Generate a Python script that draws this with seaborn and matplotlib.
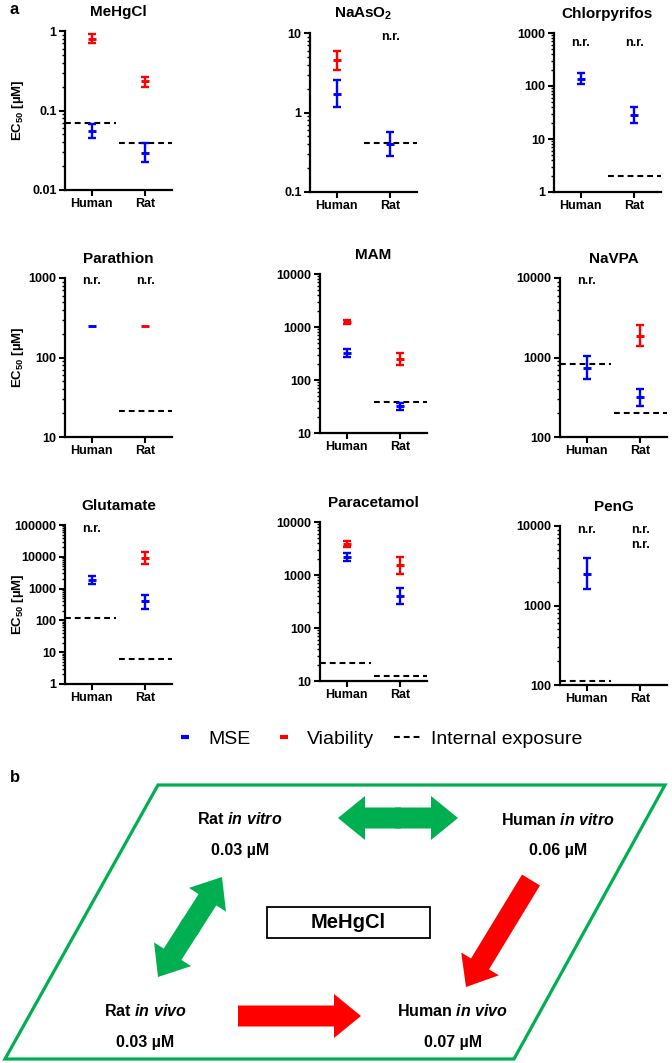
import numpy as np
import pandas as pd
import matplotlib
matplotlib.use("Agg")
import matplotlib.pyplot as plt
import matplotlib.patches as mpatches
import matplotlib.transforms as mtransforms
from matplotlib.lines import Line2D
from matplotlib.ticker import LogLocator, FuncFormatter, NullFormatter
import seaborn as sns

# ---------------- data ----------------
compounds = ["MeHgCl", "NaAsO$_2$", "Chlorpyrifos", "Parathion", "MAM",
             "NaVPA", "Glutamate", "Paracetamol", "PenG"]
species = ["Human", "Rat"]
nan = np.nan

# MSE EC50 [uM] (Human, Rat)
mse_mean = [[0.055, 0.0295], [1.71, 0.405], [137, 28.4], [250, nan], [328, 31.8],
            [740, 316], [1910, 402], [2190, 407], [2490, nan]]
mse_low = [[0.0455, 0.0223], [1.16, 0.286], [109, 20.0], [nan, nan], [275, 27.2],
           [532, 248], [1430, 232], [1840, 288], [1595, nan]]
mse_high = [[0.068, 0.0386], [2.56, 0.574], [176, 39.5], [nan, nan], [390, 36.8],
            [1030, 398], [2490, 650], [2600, 577], [3955, nan]]

# Viability EC50 [uM] (Human, Rat)
via_mean = [[0.80, 0.235], [4.53, nan], [nan, nan], [nan, 250], [1250, 253],
            [nan, 1890], [nan, 9300], [3850, 1520], [nan, nan]]
via_low = [[0.70, 0.20], [3.43, nan], [nan, nan], [nan, nan], [1140, 192],
           [nan, 1384], [nan, 5750], [3325, 1045], [nan, nan]]
via_high = [[0.91, 0.264], [6.0, nan], [nan, nan], [nan, nan], [1374, 318],
            [nan, 2600], [nan, 14300], [4447, 2188], [nan, nan]]

# Internal exposure [uM] (Human, Rat)
exposure = [[0.070, 0.039], [nan, 0.41], [nan, 2.0], [nan, 21.3], [nan, 39],
            [824, 200], [121, 6.3], [21.9, 12.6], [111, nan]]

# number of "n.r." labels above (Human, Rat)
nr_count = [[0, 0], [0, 1], [1, 1], [1, 1], [0, 0], [1, 0], [1, 0], [0, 0], [1, 2]]

# y-axis ranges
y_lo = [0.01, 0.1, 1, 10, 10, 100, 1, 10, 100]
y_hi = [1, 10, 1000, 1000, 10000, 10000, 100000, 10000, 10000]

# panel b
b_species = ["Rat", "Human", "Rat", "Human"]
b_condition = ["in vitro", "in vitro", "in vivo", "in vivo"]
b_conc = [0.03, 0.06, 0.03, 0.07]
b_compound = "MeHgCl"

# ---------------- style ----------------
sns.set_theme(style="ticks")
plt.rcParams["font.family"] = ["Liberation Sans", "DejaVu Sans"]
plt.rcParams["font.weight"] = "bold"
plt.rcParams["text.color"] = "black"
plt.rcParams["axes.labelcolor"] = "black"
plt.rcParams["xtick.color"] = "black"
plt.rcParams["ytick.color"] = "black"
plt.rcParams["axes.edgecolor"] = "black"
plt.rcParams["mathtext.fontset"] = "custom"
plt.rcParams["mathtext.rm"] = "Liberation Sans:bold"
plt.rcParams["mathtext.bf"] = "Liberation Sans:bold"
plt.rcParams["mathtext.it"] = "Liberation Sans:italic:bold"
plt.rcParams["mathtext.default"] = "bf"

BLUE = "#0000FF"
RED = "#FF0000"
GREEN = "#00B050"
palette = {"MSE": BLUE, "Viability": RED}

W, H = 672, 1063
fig = plt.figure(figsize=(W / 100, H / 100), dpi=100)

# long table
records = []
for ci, c in enumerate(compounds):
    for si, s in enumerate(species):
        for assay, m, lo, hi in [("MSE", mse_mean, mse_low, mse_high),
                                 ("Viability", via_mean, via_low, via_high)]:
            if not np.isnan(m[ci][si]):
                records.append(dict(compound=c, x=si, species=s, assay=assay,
                                    mean=m[ci][si], low=lo[ci][si], high=hi[ci][si]))
df = pd.DataFrame(records)

px_left = [65, 310, 554, 65, 320, 560, 65, 320, 560]
px_top = [31, 33, 33, 278, 274, 278, 525, 522, 526]
nr_off = [4, 4, 10, 3, 4, 3, 4, 4, 4]   # px below axes top
ax_w, ax_h = 107, 159
exp_span = [(-0.5, 0.45), (0.5, 1.5)]
fmt = FuncFormatter(lambda v, p: f"{v:.10g}")

for i, name in enumerate(compounds):
    ax = fig.add_axes([px_left[i] / W, 1 - (px_top[i] + ax_h) / H, ax_w / W, ax_h / H])
    sub = df[df.compound == name]
    ax.set_yscale("log")
    # error bars
    for assay, g in sub.groupby("assay"):
        g = g.dropna(subset=["low", "high"])
        if len(g):
            ax.errorbar(g["x"], g["mean"],
                        yerr=[g["mean"] - g["low"], g["high"] - g["mean"]],
                        fmt="none", ecolor=palette[assay], elinewidth=1.7,
                        capsize=2.7, capthick=1.7, zorder=3)
    # centre marks
    sns.scatterplot(data=sub, x="x", y="mean", hue="assay", palette=palette,
                    marker="_", s=30, linewidth=2.1, legend=False, ax=ax, zorder=4)
    # internal exposure
    for si in range(2):
        v = exposure[i][si]
        if not np.isnan(v):
            ax.hlines(v, exp_span[si][0], exp_span[si][1], colors="black",
                      linestyles=(0, (2.8, 1.9)), linewidth=1.5, clip_on=False, zorder=2)
    # n.r.
    trans = mtransforms.blended_transform_factory(ax.transData, ax.transAxes)
    for si in range(2):
        for k in range(nr_count[i][si]):
            yf = 1 - (nr_off[i] + 15 * k) / ax_h
            ax.text(si, yf, "n.r.", transform=trans, ha="center", va="center",
                    fontsize=9, fontweight="bold", color="black", clip_on=False)
    ax.set_xlim(-0.5, 1.5)
    ax.set_ylim(y_lo[i], y_hi[i])
    ax.set_xticks([0, 1])
    ax.set_xticklabels(species)
    ax.yaxis.set_major_locator(LogLocator(base=10, numticks=20))
    ax.yaxis.set_minor_locator(LogLocator(base=10, subs=np.arange(2, 10), numticks=100))
    ax.yaxis.set_major_formatter(fmt)
    ax.yaxis.set_minor_formatter(NullFormatter())
    ax.set_xlabel("")
    ax.set_ylabel("")
    sns.despine(ax=ax)
    for sp in ["left", "bottom"]:
        ax.spines[sp].set_linewidth(1.6)
        ax.spines[sp].set_color("black")
    ax.tick_params(axis="both", which="major", length=4, width=1.5, pad=2,
                   labelsize=9, colors="black")
    ax.tick_params(axis="y", which="minor", length=2, width=1.0, colors="black")
    for lab in ax.get_xticklabels() + ax.get_yticklabels():
        lab.set_fontweight("bold")
    ax.set_title(name, fontsize=11, fontweight="bold", pad=11, color="black")
    if i % 3 == 0:
        ax.set_ylabel("EC$_{50}$ [µM]", fontsize=9.5, fontweight="bold", color="black")
        ax.yaxis.set_label_coords(-0.36, 0.5)

# legend
handles = [Line2D([], [], color=BLUE, marker="_", ls="none", ms=6, mew=3),
           Line2D([], [], color=RED, marker="_", ls="none", ms=6, mew=3),
           Line2D([], [], color="black", ls=(0, (2.8, 1.9)), lw=1.5)]
leg = fig.legend(handles, ["MSE", "Viability", "Internal exposure"], loc="center",
                 bbox_to_anchor=(377 / W, 1 - 739 / H), ncol=3, frameon=False,
                 prop={"weight": "normal", "size": 14}, handlelength=1.4,
                 handletextpad=0.5, columnspacing=1.0)
for t in leg.get_texts():
    t.set_color("black")

fig.text(10 / W, 1 - 9 / H, "a", fontsize=12, fontweight="bold", va="center", color="black")
fig.text(10 / W, 1 - 777 / H, "b", fontsize=12, fontweight="bold", va="center", color="black")

# ---------------- panel b ----------------
top_b = 770
axb = fig.add_axes([0, 0, 1, (H - top_b) / H])
axb.set_xlim(0, W)
axb.set_ylim(H, top_b)
axb.axis("off")
axb.add_patch(mpatches.Polygon([(158, 785), (665, 785), (514, 1059), (5, 1059)],
                               closed=True, fill=False, ec=GREEN, lw=2.3, clip_on=False))


def arrow(x0, y0, x1, y1, color):
    axb.add_patch(mpatches.FancyArrow(x0, y0, x1 - x0, y1 - y0, width=21,
                                      head_width=44, head_length=27,
                                      length_includes_head=True, color=color,
                                      lw=0, clip_on=False))


def double_arrow(x0, y0, x1, y1, color):
    mx, my = (x0 + x1) / 2, (y0 + y1) / 2
    d = np.hypot(x1 - x0, y1 - y0)
    ux, uy = (x1 - x0) / d, (y1 - y0) / d
    arrow(mx - 3 * ux, my - 3 * uy, x1, y1, color)
    arrow(mx + 3 * ux, my + 3 * uy, x0, y0, color)


double_arrow(338, 818, 458, 818, GREEN)
double_arrow(158, 977, 222, 877, GREEN)
arrow(531, 880, 466, 987, RED)
arrow(238, 1016, 361, 1016, RED)

axb.add_patch(mpatches.Rectangle((267, 907), 163, 31, fill=False, ec="black",
                                 lw=1.3, clip_on=False))
axb.text(348.5, 923, b_compound, ha="center", va="center", fontsize=14.5,
         fontweight="bold", color="black")

node_xy = [(240, 819), (558, 820), (145, 1011), (453, 1011)]
for (x, y), sp, cond, v in zip(node_xy, b_species, b_condition, b_conc):
    label = sp + " $\\mathit{" + cond.replace(" ", "\\ ") + "}$"
    axb.text(x, y, label, ha="center", va="center", fontsize=11.5,
             fontweight="bold", color="black")
    axb.text(x, y + 31, f"{v:.2f} µM", ha="center", va="center", fontsize=11.5,
             fontweight="bold", color="black")

fig.savefig("out.png", dpi=100)
